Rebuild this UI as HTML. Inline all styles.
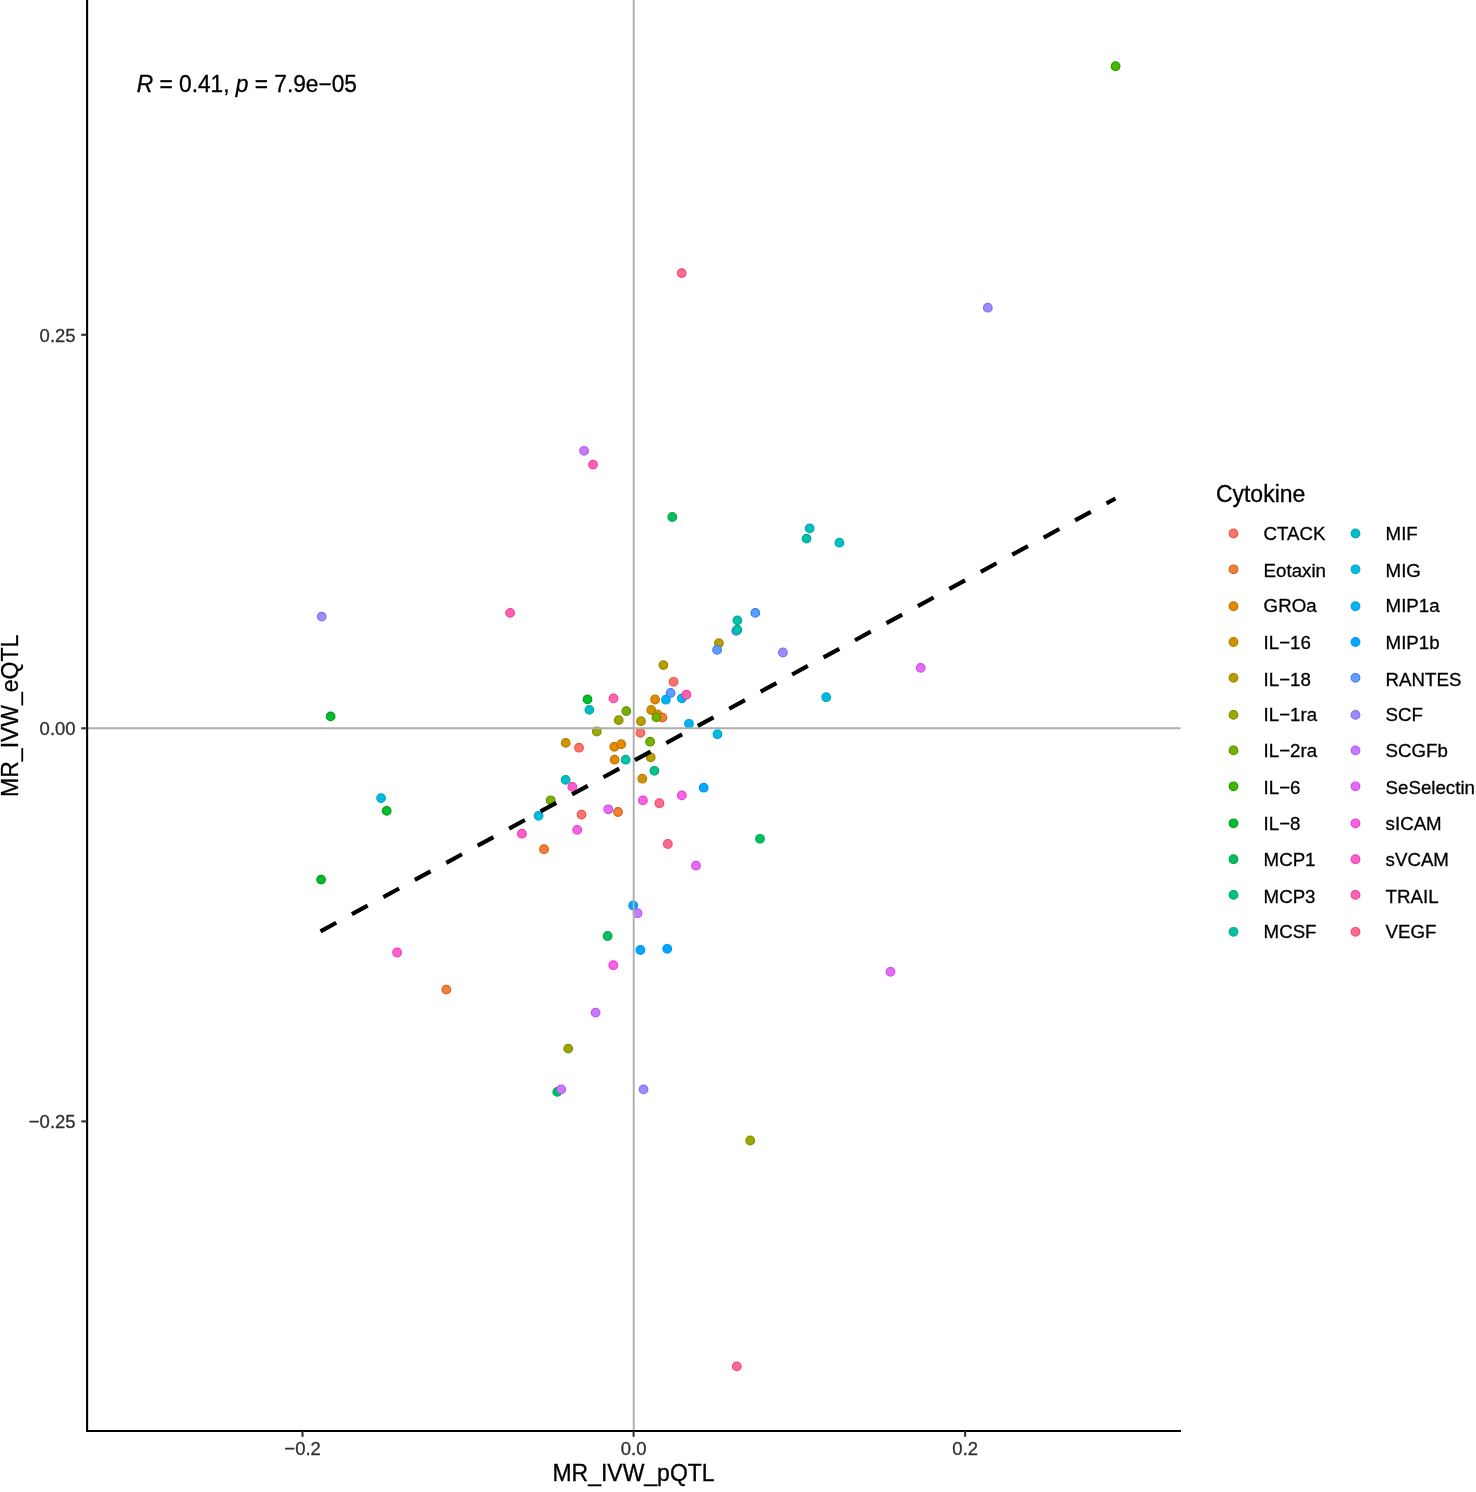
<!DOCTYPE html>
<html><head><meta charset="utf-8"><title>MR IVW pQTL vs eQTL</title>
<style>
html,body{margin:0;padding:0;background:#fff;}
svg{display:block;}
text{font-family:"Liberation Sans",Arial,Helvetica,sans-serif;}
.tick{font-size:18.5px;fill:#303030;stroke:#303030;stroke-width:.3px;}
.title{font-size:22.7px;fill:#000;stroke:#000;stroke-width:.3px;}
.atitle{font-size:23px;fill:#000;stroke:#000;stroke-width:.3px;}
.leg{font-size:18.7px;fill:#000;stroke:#000;stroke-width:.28px;}
</style></head><body>
<svg width="1476" height="1492" viewBox="0 0 1476 1492">
<rect width="1476" height="1492" fill="#fff"/>
<g id="points">
<circle cx="1115.6" cy="66.2" r="4.3" fill="#49B500" stroke="#1B9F00" stroke-width="1.2"/>
<circle cx="681.7" cy="273.1" r="4.3" fill="#FF6C91" stroke="#F94673" stroke-width="1.2"/>
<circle cx="987.8" cy="307.7" r="4.3" fill="#9F8CFF" stroke="#846DF9" stroke-width="1.2"/>
<circle cx="584.1" cy="450.8" r="4.3" fill="#C77CFF" stroke="#B559F9" stroke-width="1.2"/>
<circle cx="593.0" cy="464.6" r="4.3" fill="#FF64B0" stroke="#F93C99" stroke-width="1.2"/>
<circle cx="672.3" cy="517.0" r="4.3" fill="#00BE67" stroke="#00AA40" stroke-width="1.2"/>
<circle cx="809.7" cy="528.4" r="4.3" fill="#00BFC4" stroke="#00ABB1" stroke-width="1.2"/>
<circle cx="806.5" cy="538.6" r="4.3" fill="#00C1A9" stroke="#00AD90" stroke-width="1.2"/>
<circle cx="839.4" cy="542.7" r="4.3" fill="#00BFC4" stroke="#00ABB1" stroke-width="1.2"/>
<circle cx="755.3" cy="612.9" r="4.3" fill="#619CFF" stroke="#3880F9" stroke-width="1.2"/>
<circle cx="736.2" cy="630.9" r="4.3" fill="#619CFF" stroke="#3880F9" stroke-width="1.2"/>
<circle cx="737.4" cy="620.4" r="4.3" fill="#00C1A9" stroke="#00AD90" stroke-width="1.2"/>
<circle cx="737.4" cy="629.7" r="4.3" fill="#00C1A9" stroke="#00AD90" stroke-width="1.2"/>
<circle cx="718.9" cy="643.2" r="4.3" fill="#B79F00" stroke="#A18400" stroke-width="1.2"/>
<circle cx="717.1" cy="649.9" r="4.3" fill="#619CFF" stroke="#3880F9" stroke-width="1.2"/>
<circle cx="663.4" cy="665.1" r="4.3" fill="#B79F00" stroke="#A18400" stroke-width="1.2"/>
<circle cx="673.6" cy="681.8" r="4.3" fill="#F8766D" stroke="#F05247" stroke-width="1.2"/>
<circle cx="665.9" cy="699.7" r="4.3" fill="#00B4F0" stroke="#009EE7" stroke-width="1.2"/>
<circle cx="670.6" cy="693.0" r="4.3" fill="#619CFF" stroke="#3880F9" stroke-width="1.2"/>
<circle cx="681.9" cy="698.3" r="4.3" fill="#00B4F0" stroke="#009EE7" stroke-width="1.2"/>
<circle cx="686.4" cy="694.6" r="4.3" fill="#FF64B0" stroke="#F93C99" stroke-width="1.2"/>
<circle cx="655.1" cy="699.5" r="4.3" fill="#DE8C00" stroke="#D16D00" stroke-width="1.2"/>
<circle cx="587.5" cy="699.4" r="4.3" fill="#00BA38" stroke="#00A506" stroke-width="1.2"/>
<circle cx="613.5" cy="698.4" r="4.3" fill="#FF64B0" stroke="#F93C99" stroke-width="1.2"/>
<circle cx="589.4" cy="709.9" r="4.3" fill="#00BFC4" stroke="#00ABB1" stroke-width="1.2"/>
<circle cx="626.3" cy="711.1" r="4.3" fill="#7CAE00" stroke="#599600" stroke-width="1.2"/>
<circle cx="618.7" cy="720.1" r="4.3" fill="#9DA700" stroke="#818E00" stroke-width="1.2"/>
<circle cx="651.2" cy="710.0" r="4.3" fill="#CD9600" stroke="#BC7900" stroke-width="1.2"/>
<circle cx="657.5" cy="714.5" r="4.3" fill="#CD9600" stroke="#BC7900" stroke-width="1.2"/>
<circle cx="662.4" cy="717.6" r="4.3" fill="#ED813E" stroke="#E35F0E" stroke-width="1.2"/>
<circle cx="656.4" cy="717.4" r="4.3" fill="#7CAE00" stroke="#599600" stroke-width="1.2"/>
<circle cx="641.0" cy="721.2" r="4.3" fill="#B79F00" stroke="#A18400" stroke-width="1.2"/>
<circle cx="689.0" cy="723.8" r="4.3" fill="#00B4F0" stroke="#009EE7" stroke-width="1.2"/>
<circle cx="596.8" cy="731.5" r="4.3" fill="#9DA700" stroke="#818E00" stroke-width="1.2"/>
<circle cx="640.4" cy="732.8" r="4.3" fill="#F8766D" stroke="#F05247" stroke-width="1.2"/>
<circle cx="717.5" cy="734.2" r="4.3" fill="#00BBDC" stroke="#00A6CE" stroke-width="1.2"/>
<circle cx="650.1" cy="741.7" r="4.3" fill="#7CAE00" stroke="#599600" stroke-width="1.2"/>
<circle cx="565.7" cy="742.9" r="4.3" fill="#CD9600" stroke="#BC7900" stroke-width="1.2"/>
<circle cx="579.0" cy="747.7" r="4.3" fill="#F8766D" stroke="#F05247" stroke-width="1.2"/>
<circle cx="614.3" cy="746.8" r="4.3" fill="#DE8C00" stroke="#D16D00" stroke-width="1.2"/>
<circle cx="621.2" cy="744.2" r="4.3" fill="#DE8C00" stroke="#D16D00" stroke-width="1.2"/>
<circle cx="614.6" cy="759.7" r="4.3" fill="#DE8C00" stroke="#D16D00" stroke-width="1.2"/>
<circle cx="625.7" cy="759.7" r="4.3" fill="#00C1A9" stroke="#00AD90" stroke-width="1.2"/>
<circle cx="650.7" cy="757.3" r="4.3" fill="#B79F00" stroke="#A18400" stroke-width="1.2"/>
<circle cx="654.4" cy="770.8" r="4.3" fill="#00C08B" stroke="#00AC6B" stroke-width="1.2"/>
<circle cx="642.3" cy="778.7" r="4.3" fill="#CD9600" stroke="#BC7900" stroke-width="1.2"/>
<circle cx="565.6" cy="779.9" r="4.3" fill="#00BFC4" stroke="#00ABB1" stroke-width="1.2"/>
<circle cx="572.3" cy="786.9" r="4.3" fill="#FF61CC" stroke="#F938BB" stroke-width="1.2"/>
<circle cx="550.7" cy="800.3" r="4.3" fill="#7CAE00" stroke="#599600" stroke-width="1.2"/>
<circle cx="538.6" cy="815.8" r="4.3" fill="#00BBDC" stroke="#00A6CE" stroke-width="1.2"/>
<circle cx="703.7" cy="787.7" r="4.3" fill="#00A9FF" stroke="#0090F9" stroke-width="1.2"/>
<circle cx="681.8" cy="795.4" r="4.3" fill="#F564E3" stroke="#ED3CD7" stroke-width="1.2"/>
<circle cx="642.9" cy="800.4" r="4.3" fill="#F564E3" stroke="#ED3CD7" stroke-width="1.2"/>
<circle cx="659.4" cy="803.2" r="4.3" fill="#FF6C91" stroke="#F94673" stroke-width="1.2"/>
<circle cx="608.3" cy="809.3" r="4.3" fill="#E36EF6" stroke="#D748EE" stroke-width="1.2"/>
<circle cx="618.0" cy="812.0" r="4.3" fill="#ED813E" stroke="#E35F0E" stroke-width="1.2"/>
<circle cx="581.5" cy="814.6" r="4.3" fill="#F8766D" stroke="#F05247" stroke-width="1.2"/>
<circle cx="577.2" cy="829.9" r="4.3" fill="#F564E3" stroke="#ED3CD7" stroke-width="1.2"/>
<circle cx="521.9" cy="833.7" r="4.3" fill="#FF61CC" stroke="#F938BB" stroke-width="1.2"/>
<circle cx="544.0" cy="849.2" r="4.3" fill="#ED813E" stroke="#E35F0E" stroke-width="1.2"/>
<circle cx="667.8" cy="844.0" r="4.3" fill="#FF6C91" stroke="#F94673" stroke-width="1.2"/>
<circle cx="696.0" cy="865.6" r="4.3" fill="#E36EF6" stroke="#D748EE" stroke-width="1.2"/>
<circle cx="760.0" cy="838.8" r="4.3" fill="#00BE67" stroke="#00AA40" stroke-width="1.2"/>
<circle cx="381.1" cy="798.1" r="4.3" fill="#00BBDC" stroke="#00A6CE" stroke-width="1.2"/>
<circle cx="386.7" cy="810.9" r="4.3" fill="#00BA38" stroke="#00A506" stroke-width="1.2"/>
<circle cx="321.1" cy="879.6" r="4.3" fill="#00BA38" stroke="#00A506" stroke-width="1.2"/>
<circle cx="397.1" cy="952.5" r="4.3" fill="#FF61CC" stroke="#F938BB" stroke-width="1.2"/>
<circle cx="321.7" cy="616.6" r="4.3" fill="#9F8CFF" stroke="#846DF9" stroke-width="1.2"/>
<circle cx="510.1" cy="612.9" r="4.3" fill="#FF64B0" stroke="#F93C99" stroke-width="1.2"/>
<circle cx="330.6" cy="716.4" r="4.3" fill="#00BA38" stroke="#00A506" stroke-width="1.2"/>
<circle cx="782.9" cy="652.5" r="4.3" fill="#9F8CFF" stroke="#846DF9" stroke-width="1.2"/>
<circle cx="826.2" cy="697.2" r="4.3" fill="#00BBDC" stroke="#00A6CE" stroke-width="1.2"/>
<circle cx="920.7" cy="667.9" r="4.3" fill="#E36EF6" stroke="#D748EE" stroke-width="1.2"/>
<circle cx="633.2" cy="905.5" r="4.3" fill="#00A9FF" stroke="#0090F9" stroke-width="1.2"/>
<circle cx="637.5" cy="913.2" r="4.3" fill="#C77CFF" stroke="#B559F9" stroke-width="1.2"/>
<circle cx="607.6" cy="936.0" r="4.3" fill="#00BE67" stroke="#00AA40" stroke-width="1.2"/>
<circle cx="640.4" cy="950.0" r="4.3" fill="#00A9FF" stroke="#0090F9" stroke-width="1.2"/>
<circle cx="667.2" cy="948.8" r="4.3" fill="#00A9FF" stroke="#0090F9" stroke-width="1.2"/>
<circle cx="613.3" cy="965.2" r="4.3" fill="#F564E3" stroke="#ED3CD7" stroke-width="1.2"/>
<circle cx="446.3" cy="989.6" r="4.3" fill="#ED813E" stroke="#E35F0E" stroke-width="1.2"/>
<circle cx="595.6" cy="1012.6" r="4.3" fill="#C77CFF" stroke="#B559F9" stroke-width="1.2"/>
<circle cx="568.2" cy="1048.6" r="4.3" fill="#9DA700" stroke="#818E00" stroke-width="1.2"/>
<circle cx="557.3" cy="1091.9" r="4.3" fill="#00BE67" stroke="#00AA40" stroke-width="1.2"/>
<circle cx="561.2" cy="1089.4" r="4.3" fill="#C77CFF" stroke="#B559F9" stroke-width="1.2"/>
<circle cx="643.5" cy="1089.4" r="4.3" fill="#9F8CFF" stroke="#846DF9" stroke-width="1.2"/>
<circle cx="750.2" cy="1140.5" r="4.3" fill="#9DA700" stroke="#818E00" stroke-width="1.2"/>
<circle cx="736.8" cy="1366.4" r="4.3" fill="#FF6C91" stroke="#F94673" stroke-width="1.2"/>
<circle cx="890.5" cy="971.8" r="4.3" fill="#E36EF6" stroke="#D748EE" stroke-width="1.2"/>
</g>
<line x1="88" y1="728.3" x2="1180.6" y2="728.3" stroke="#aeaeae" stroke-width="1.9"/>
<line x1="633.7" y1="0" x2="633.7" y2="1430" stroke="#aeaeae" stroke-width="1.9"/>
<line x1="320.5" y1="931.3" x2="1115.4" y2="498.5" stroke="#000" stroke-width="4.2" stroke-dasharray="17.9 17.9"/>
<line x1="87.1" y1="0" x2="87.1" y2="1432" stroke="#000" stroke-width="2.1"/>
<line x1="86" y1="1431" x2="1181" y2="1431" stroke="#000" stroke-width="2.1"/>
<line x1="81.2" y1="334.8" x2="87" y2="334.8" stroke="#333" stroke-width="2.1"/>
<line x1="81.2" y1="728.3" x2="87" y2="728.3" stroke="#333" stroke-width="2.1"/>
<line x1="81.2" y1="1121.4" x2="87" y2="1121.4" stroke="#333" stroke-width="2.1"/>
<line x1="302.5" y1="1431" x2="302.5" y2="1436.8" stroke="#333" stroke-width="2.1"/>
<line x1="633.6" y1="1431" x2="633.6" y2="1436.8" stroke="#333" stroke-width="2.1"/>
<line x1="965.1" y1="1431" x2="965.1" y2="1436.8" stroke="#333" stroke-width="2.1"/>
<text class="tick" transform="translate(75.6,341.7) scale(1,1.03)" text-anchor="end">0.25</text>
<text class="tick" transform="translate(75.6,735.1999999999999) scale(1,1.03)" text-anchor="end">0.00</text>
<text class="tick" transform="translate(75.6,1128.3000000000002) scale(1,1.03)" text-anchor="end">−0.25</text>
<text class="tick" transform="translate(302.6,1455.2) scale(1,1.03)" text-anchor="middle">−0.2</text>
<text class="tick" transform="translate(633.6,1455.2) scale(1,1.03)" text-anchor="middle">0.0</text>
<text class="tick" transform="translate(965.2,1455.2) scale(1,1.03)" text-anchor="middle">0.2</text>
<text class="atitle" transform="translate(633.5,1481.2) scale(1,1.03)" text-anchor="middle">MR_IVW_pQTL</text>
<text class="atitle" transform="translate(18.1,715.8) rotate(-90) scale(1,1.03)" text-anchor="middle">MR_IVW_eQTL</text>
<text class="title" transform="translate(136.8,91.7) scale(1,1.03)" text-anchor="start"><tspan font-style="italic">R</tspan> = 0.41, <tspan font-style="italic">p</tspan> = 7.9e−05</text>
<text class="atitle" transform="translate(1215.9,501.5) scale(1,1.03)" text-anchor="start">Cytokine</text>
<circle cx="1233.5" cy="533.5" r="4.3" fill="#F8766D" stroke="#F05247" stroke-width="1.2"/>
<text class="leg" transform="translate(1263.6,539.8) scale(1,1.03)" text-anchor="start">CTACK</text>
<circle cx="1233.5" cy="569.3" r="4.3" fill="#ED813E" stroke="#E35F0E" stroke-width="1.2"/>
<text class="leg" transform="translate(1263.6,577.0) scale(1,1.03)" text-anchor="start">Eotaxin</text>
<circle cx="1233.5" cy="606.2" r="4.3" fill="#DE8C00" stroke="#D16D00" stroke-width="1.2"/>
<text class="leg" transform="translate(1263.6,612.3) scale(1,1.03)" text-anchor="start">GROa</text>
<circle cx="1233.5" cy="642.0" r="4.3" fill="#CD9600" stroke="#BC7900" stroke-width="1.2"/>
<text class="leg" transform="translate(1263.6,648.5) scale(1,1.03)" text-anchor="start">IL−16</text>
<circle cx="1233.5" cy="677.8" r="4.3" fill="#B79F00" stroke="#A18400" stroke-width="1.2"/>
<text class="leg" transform="translate(1263.6,685.5) scale(1,1.03)" text-anchor="start">IL−18</text>
<circle cx="1233.5" cy="714.9" r="4.3" fill="#9DA700" stroke="#818E00" stroke-width="1.2"/>
<text class="leg" transform="translate(1263.6,721.3) scale(1,1.03)" text-anchor="start">IL−1ra</text>
<circle cx="1233.5" cy="750.4" r="4.3" fill="#7CAE00" stroke="#599600" stroke-width="1.2"/>
<text class="leg" transform="translate(1263.6,757.2) scale(1,1.03)" text-anchor="start">IL−2ra</text>
<circle cx="1233.5" cy="786.3" r="4.3" fill="#49B500" stroke="#1B9F00" stroke-width="1.2"/>
<text class="leg" transform="translate(1263.6,794.1) scale(1,1.03)" text-anchor="start">IL−6</text>
<circle cx="1233.5" cy="823.3" r="4.3" fill="#00BA38" stroke="#00A506" stroke-width="1.2"/>
<text class="leg" transform="translate(1263.6,830.0) scale(1,1.03)" text-anchor="start">IL−8</text>
<circle cx="1233.5" cy="859.2" r="4.3" fill="#00BE67" stroke="#00AA40" stroke-width="1.2"/>
<text class="leg" transform="translate(1263.6,865.6) scale(1,1.03)" text-anchor="start">MCP1</text>
<circle cx="1233.5" cy="894.9" r="4.3" fill="#00C08B" stroke="#00AC6B" stroke-width="1.2"/>
<text class="leg" transform="translate(1263.6,902.7) scale(1,1.03)" text-anchor="start">MCP3</text>
<circle cx="1233.5" cy="931.8" r="4.3" fill="#00C1A9" stroke="#00AD90" stroke-width="1.2"/>
<text class="leg" transform="translate(1263.6,938.2) scale(1,1.03)" text-anchor="start">MCSF</text>
<circle cx="1355.5" cy="533.5" r="4.3" fill="#00BFC4" stroke="#00ABB1" stroke-width="1.2"/>
<text class="leg" transform="translate(1385.6,539.8) scale(1,1.03)" text-anchor="start">MIF</text>
<circle cx="1355.5" cy="569.3" r="4.3" fill="#00BBDC" stroke="#00A6CE" stroke-width="1.2"/>
<text class="leg" transform="translate(1385.6,577.0) scale(1,1.03)" text-anchor="start">MIG</text>
<circle cx="1355.5" cy="606.2" r="4.3" fill="#00B4F0" stroke="#009EE7" stroke-width="1.2"/>
<text class="leg" transform="translate(1385.6,612.3) scale(1,1.03)" text-anchor="start">MIP1a</text>
<circle cx="1355.5" cy="642.0" r="4.3" fill="#00A9FF" stroke="#0090F9" stroke-width="1.2"/>
<text class="leg" transform="translate(1385.6,648.5) scale(1,1.03)" text-anchor="start">MIP1b</text>
<circle cx="1355.5" cy="677.8" r="4.3" fill="#619CFF" stroke="#3880F9" stroke-width="1.2"/>
<text class="leg" transform="translate(1385.6,685.5) scale(1,1.03)" text-anchor="start">RANTES</text>
<circle cx="1355.5" cy="714.9" r="4.3" fill="#9F8CFF" stroke="#846DF9" stroke-width="1.2"/>
<text class="leg" transform="translate(1385.6,721.3) scale(1,1.03)" text-anchor="start">SCF</text>
<circle cx="1355.5" cy="750.4" r="4.3" fill="#C77CFF" stroke="#B559F9" stroke-width="1.2"/>
<text class="leg" transform="translate(1385.6,757.2) scale(1,1.03)" text-anchor="start">SCGFb</text>
<circle cx="1355.5" cy="786.3" r="4.3" fill="#E36EF6" stroke="#D748EE" stroke-width="1.2"/>
<text class="leg" transform="translate(1385.6,794.1) scale(1,1.03)" text-anchor="start">SeSelectin</text>
<circle cx="1355.5" cy="823.3" r="4.3" fill="#F564E3" stroke="#ED3CD7" stroke-width="1.2"/>
<text class="leg" transform="translate(1385.6,830.0) scale(1,1.03)" text-anchor="start">sICAM</text>
<circle cx="1355.5" cy="859.2" r="4.3" fill="#FF61CC" stroke="#F938BB" stroke-width="1.2"/>
<text class="leg" transform="translate(1385.6,865.6) scale(1,1.03)" text-anchor="start">sVCAM</text>
<circle cx="1355.5" cy="894.9" r="4.3" fill="#FF64B0" stroke="#F93C99" stroke-width="1.2"/>
<text class="leg" transform="translate(1385.6,902.7) scale(1,1.03)" text-anchor="start">TRAIL</text>
<circle cx="1355.5" cy="931.8" r="4.3" fill="#FF6C91" stroke="#F94673" stroke-width="1.2"/>
<text class="leg" transform="translate(1385.6,938.2) scale(1,1.03)" text-anchor="start">VEGF</text>
</svg></body></html>
